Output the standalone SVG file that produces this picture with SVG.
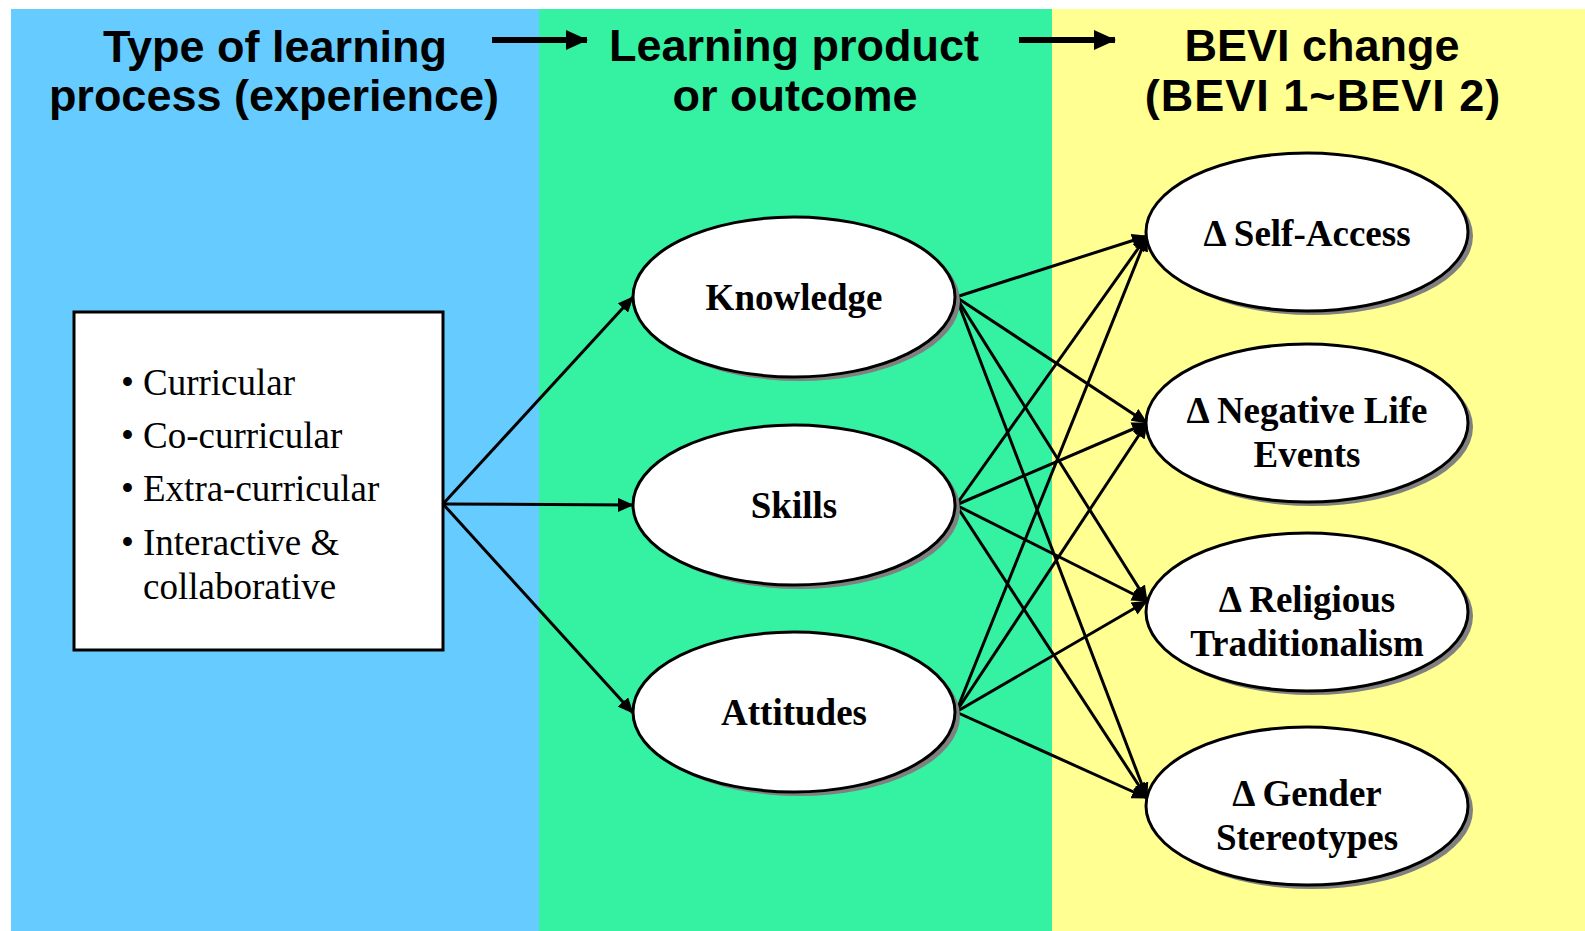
<svg xmlns="http://www.w3.org/2000/svg" width="1585" height="931" viewBox="0 0 1585 931">
  <style>
    .title { font-family: "Liberation Sans", Arial, sans-serif; font-weight: bold; font-size: 45px; fill: #000; text-anchor: middle; }
    .item { font-family: "Liberation Serif", "Times New Roman", serif; font-size: 37px; fill: #000; }
    .label { font-family: "Liberation Serif", "Times New Roman", serif; font-weight: bold; font-size: 37px; fill: #000; text-anchor: middle; }
    .node { fill: #ffffff; stroke: #000; stroke-width: 3; }
    .shadow { fill: #808080; }
    .conn line { stroke: #000; stroke-width: 3; fill: none; marker-end: url(#head); }
    .flow { stroke: #000; stroke-width: 6; marker-end: url(#bighead); }
  </style>
  <defs>
    <marker id="head" markerUnits="userSpaceOnUse" markerWidth="16" markerHeight="14" refX="15" refY="7" orient="auto">
      <path d="M0,0 L16,7 L0,14 Z" fill="#000"/>
    </marker>
    <marker id="bighead" markerUnits="userSpaceOnUse" markerWidth="22" markerHeight="20" refX="21" refY="10" orient="auto">
      <path d="M0,0 L22,10 L0,20 Z" fill="#000"/>
    </marker>
  </defs>

  <!-- column backgrounds -->
  <rect x="0" y="0" width="1585" height="931" fill="#ffffff"/>
  <rect x="11" y="9" width="528" height="922" fill="#66ccff"/>
  <rect x="539" y="9" width="513" height="922" fill="#35f2a2"/>
  <rect x="1052" y="9" width="533" height="922" fill="#ffff92"/>

  <!-- column headings -->
  <g id="heading-process">
    <text class="title" x="275" y="62">Type of learning</text>
    <text class="title" x="274" y="111">process (experience)</text>
  </g>
  <g id="heading-outcome">
    <text class="title" x="794" y="61">Learning product</text>
    <text class="title" x="795" y="111">or outcome</text>
  </g>
  <g id="heading-bevi">
    <text class="title" x="1322" y="61">BEVI change</text>
    <text class="title" x="1323" y="111" letter-spacing="1">(BEVI 1~BEVI 2)</text>
  </g>
  <g id="heading-arrows">
    <line class="flow" x1="492" y1="40" x2="587" y2="40"/>
    <line class="flow" x1="1019" y1="40" x2="1115" y2="40"/>
  </g>

  <!-- connectors -->
  <g id="connectors" class="conn">
    <line x1="443" y1="504" x2="633" y2="297"/>
    <line x1="443" y1="504" x2="633" y2="505"/>
    <line x1="443" y1="504" x2="633" y2="713"/>

    <line x1="956" y1="297" x2="1147" y2="236"/>
    <line x1="956" y1="297" x2="1147" y2="423"/>
    <line x1="956" y1="297" x2="1147" y2="601"/>
    <line x1="956" y1="297" x2="1147" y2="798"/>

    <line x1="956" y1="505" x2="1147" y2="236"/>
    <line x1="956" y1="505" x2="1147" y2="423"/>
    <line x1="956" y1="505" x2="1147" y2="601"/>
    <line x1="956" y1="505" x2="1147" y2="798"/>

    <line x1="956" y1="712" x2="1147" y2="236"/>
    <line x1="956" y1="712" x2="1147" y2="423"/>
    <line x1="956" y1="712" x2="1147" y2="601"/>
    <line x1="956" y1="712" x2="1147" y2="798"/>
  </g>

  <!-- experience types -->
  <g id="experience-box">
    <rect class="node" x="74" y="312" width="369" height="338"/>
    <text class="item" x="121" y="395">•</text>
    <text class="item" x="143" y="395">Curricular</text>
    <text class="item" x="121" y="448">•</text>
    <text class="item" x="143" y="448">Co-curricular</text>
    <text class="item" x="121" y="501">•</text>
    <text class="item" x="143" y="501">Extra-curricular</text>
    <text class="item" x="121" y="555">•</text>
    <text class="item" x="143" y="555">Interactive &amp;</text>
    <text class="item" x="143" y="599">collaborative</text>
  </g>

  <!-- learning outcomes -->
  <g id="knowledge">
    <ellipse class="shadow" cx="799" cy="301" rx="161" ry="80"/>
    <ellipse class="node" cx="794" cy="297" rx="161" ry="80"/>
    <text class="label" x="794" y="310">Knowledge</text>
  </g>
  <g id="skills">
    <ellipse class="shadow" cx="799" cy="509" rx="161" ry="80"/>
    <ellipse class="node" cx="794" cy="505" rx="161" ry="80"/>
    <text class="label" x="794" y="518">Skills</text>
  </g>
  <g id="attitudes">
    <ellipse class="shadow" cx="799" cy="716" rx="161" ry="80"/>
    <ellipse class="node" cx="794" cy="712" rx="161" ry="80"/>
    <text class="label" x="794" y="725">Attitudes</text>
  </g>

  <!-- BEVI scales -->
  <g id="self-access">
    <ellipse class="shadow" cx="1312" cy="236" rx="161" ry="79"/>
    <ellipse class="node" cx="1307" cy="232" rx="161" ry="79"/>
    <text class="label" x="1307" y="246">Δ Self-Access</text>
  </g>
  <g id="negative-life-events">
    <ellipse class="shadow" cx="1312" cy="427" rx="161" ry="79"/>
    <ellipse class="node" cx="1307" cy="423" rx="161" ry="79"/>
    <text class="label" x="1307" y="423">Δ Negative Life</text>
    <text class="label" x="1307" y="467">Events</text>
  </g>
  <g id="religious-traditionalism">
    <ellipse class="shadow" cx="1312" cy="616" rx="161" ry="79"/>
    <ellipse class="node" cx="1307" cy="612" rx="161" ry="79"/>
    <text class="label" x="1307" y="612">Δ Religious</text>
    <text class="label" x="1307" y="656">Traditionalism</text>
  </g>
  <g id="gender-stereotypes">
    <ellipse class="shadow" cx="1312" cy="810" rx="161" ry="79"/>
    <ellipse class="node" cx="1307" cy="806" rx="161" ry="79"/>
    <text class="label" x="1307" y="806">Δ Gender</text>
    <text class="label" x="1307" y="850">Stereotypes</text>
  </g>
</svg>
